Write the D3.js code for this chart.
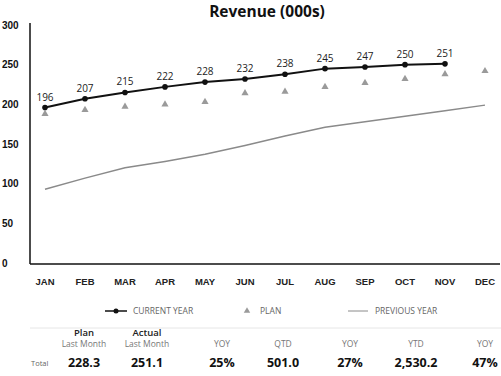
<!DOCTYPE html>
<html>
<head>
<meta charset="utf-8">
<script src="https://cdn.jsdelivr.net/npm/d3@7"></script>
<style>
  body { margin: 0; background: #fff; }
  svg { display: block; font-family: "Open Sans", sans-serif; }
</style>
</head>
<body>
<svg id="chart" width="501" height="376"></svg>
<script>
const months = ["JAN","FEB","MAR","APR","MAY","JUN","JUL","AUG","SEP","OCT","NOV","DEC"];
const currentYear = [196, 207, 215, 222, 228, 232, 238, 245, 247, 250, 251];
const plan = [188, 193, 197, 200, 203, 214, 216, 222, 227, 232, 238, 242];
const previousYear = [93, 107, 120, 128, 137, 148, 160, 171, 178, 185, 192, 199];
const yTicks = [0, 50, 100, 150, 200, 250, 300];

const kpiHeads = ["Plan", "Actual", "", "", "", "", ""];
const kpiSubs = ["Last Month", "Last Month", "YOY", "QTD", "YOY", "YTD", "YOY"];
const kpiValues = ["228.3", "251.1", "25%", "501.0", "27%", "2,530.2", "47%"];
const kpiX = [84, 147, 222, 283, 350, 416, 485];

const svg = d3.select("#chart");

const x = d3.scaleBand().domain(months).range([25, 505]);
const cx = m => x(m) + x.bandwidth() / 2;
const y = d3.scaleLinear().domain([0, 300]).range([263, 25]);

// title
svg.append("text")
  .attr("x", 267).attr("y", 16.5)
  .attr("text-anchor", "middle")
  .style("font-size", "15.5px").style("font-weight", "700").attr("fill", "#111")
  .text("Revenue (000s)");

// y axis
const yAxis = svg.append("g")
  .attr("transform", "translate(30,0)")
  .call(d3.axisLeft(y).tickValues(yTicks).tickSize(0).tickPadding(0));
yAxis.select(".domain").attr("d", `M0,${y(300) - 2}V${y(0) + 1}`).attr("stroke", "#111").attr("stroke-width", 1.5);
yAxis.selectAll("text")
  .attr("x", -28).attr("text-anchor", "start")
  .style("font-size", "10px").style("font-weight", "700").attr("fill", "#111");

// x axis
const xAxis = svg.append("g")
  .attr("transform", `translate(0,${y(0) + 1})`)
  .call(d3.axisBottom(x).tickSize(0).tickPadding(14));
xAxis.select(".domain").attr("d", "M30,0H500").attr("stroke", "#111").attr("stroke-width", 1.5);
xAxis.selectAll("text")
  .style("font-size", "9.5px").style("font-weight", "700").attr("fill", "#222");

// previous year
svg.append("path")
  .datum(previousYear)
  .attr("fill", "none").attr("stroke", "#8a8a8a").attr("stroke-width", 1.5)
  .attr("d", d3.line().x((d, i) => cx(months[i])).y(d => y(d)));

// plan triangles
svg.append("g").selectAll("path")
  .data(plan).enter()
  .append("path")
  .attr("transform", (d, i) => `translate(${cx(months[i])},${y(d)})`)
  .attr("d", d3.symbol(d3.symbolTriangle, 22))
  .attr("fill", "#9a9a9a");

// current year
svg.append("path")
  .datum(currentYear)
  .attr("fill", "none").attr("stroke", "#111").attr("stroke-width", 2)
  .attr("d", d3.line().x((d, i) => cx(months[i])).y(d => y(d)));

svg.append("g").selectAll("circle")
  .data(currentYear).enter()
  .append("circle")
  .attr("cx", (d, i) => cx(months[i]))
  .attr("cy", d => y(d))
  .attr("r", 2.8)
  .attr("fill", "#111");

svg.append("g").selectAll("text")
  .data(currentYear).enter()
  .append("text")
  .attr("x", (d, i) => cx(months[i]))
  .attr("y", d => y(d) - 7)
  .attr("text-anchor", "middle")
  .style("font-size", "10px").attr("fill", "#222")
  .text(d => d);

// legend
const legend = svg.append("g").attr("transform", "translate(0,311)");
legend.append("line").attr("x1", 105).attr("x2", 127).attr("stroke", "#111").attr("stroke-width", 1.5);
legend.append("circle").attr("cx", 116).attr("r", 2.5).attr("fill", "#111");
legend.append("path").attr("transform", "translate(247,0)").attr("d", d3.symbol(d3.symbolTriangle, 18)).attr("fill", "#9a9a9a");
legend.append("line").attr("x1", 348).attr("x2", 368).attr("stroke", "#8a8a8a").attr("stroke-width", 1);
legend.selectAll("text")
  .data([["CURRENT YEAR", 133], ["PLAN", 260], ["PREVIOUS YEAR", 375]]).enter()
  .append("text")
  .attr("x", d => d[1]).attr("y", 3)
  .style("font-size", "8.5px").attr("fill", "#666")
  .text(d => d[0]);

// separator
svg.append("line")
  .attr("x1", 30).attr("x2", 501).attr("y1", 328).attr("y2", 328)
  .attr("stroke", "#e6e6e6");

// kpi table
const kpi = svg.append("g");
kpi.selectAll("text.head")
  .data(kpiHeads).enter()
  .append("text").attr("class", "head")
  .attr("x", (d, i) => kpiX[i]).attr("y", 336)
  .attr("text-anchor", "middle")
  .style("font-size", "9.5px").style("font-weight", "600").attr("fill", "#222")
  .text(d => d);
kpi.selectAll("text.sub")
  .data(kpiSubs).enter()
  .append("text").attr("class", "sub")
  .attr("x", (d, i) => kpiX[i]).attr("y", 347)
  .attr("text-anchor", "middle")
  .style("font-size", "8.5px").attr("fill", "#777")
  .text(d => d);
kpi.selectAll("text.val")
  .data(kpiValues).enter()
  .append("text").attr("class", "val")
  .attr("x", (d, i) => kpiX[i]).attr("y", 367)
  .attr("text-anchor", "middle")
  .style("font-size", "12.5px").style("font-weight", "700").attr("fill", "#111")
  .text(d => d);
kpi.append("text")
  .attr("x", 31).attr("y", 366)
  .style("font-size", "7.5px").attr("fill", "#666")
  .text("Total");
</script>
</body>
</html>
